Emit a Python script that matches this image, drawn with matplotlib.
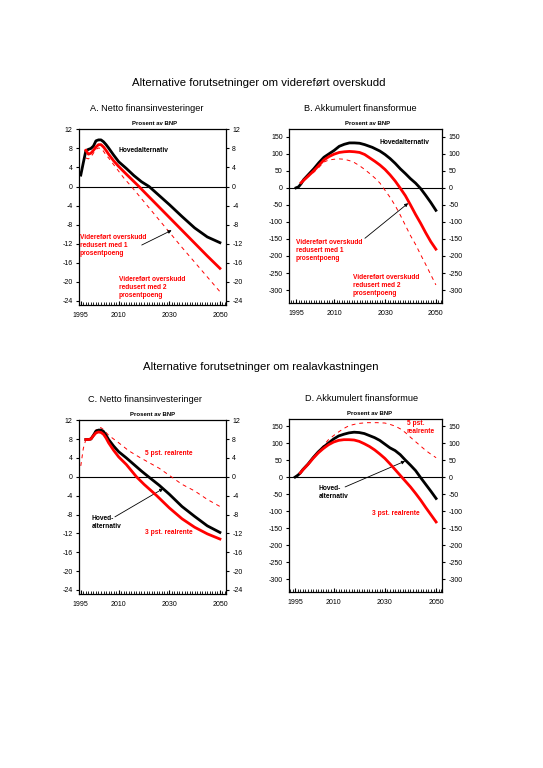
#!/usr/bin/env python3
"""
Alternative forutsetninger - netto finansinvesteringer og akkumulert finansformue
"""

import matplotlib
matplotlib.use('Agg')
import matplotlib.pyplot as plt
from matplotlib.ticker import MultipleLocator

plt.rcParams['font.family'] = ['Liberation Sans', 'DejaVu Sans']
plt.rcParams['axes.unicode_minus'] = False

RED = '#ff0000'

# ---- Panel A: netto finansinvesteringer, prosent av BNP ----
a_base_years = [1995, 1996, 1997, 1998, 1999, 2000, 2001, 2002, 2003, 2004, 2005, 2006,
                2008, 2010, 2013, 2016, 2019, 2022, 2026, 2030, 2035, 2040, 2045, 2050]
a_base_vals = [2.4, 5.0, 7.5, 7.8, 8.0, 8.5, 9.6, 9.8, 9.8, 9.4, 8.8, 8.1,
               6.6, 5.2, 3.8, 2.3, 1.0, 0.0, -1.9, -3.8, -6.3, -8.7, -10.6, -11.8]
a_red1_years = [1997, 1998, 1999, 2000, 2001, 2002, 2003, 2004, 2005, 2006, 2008, 2010,
                2013, 2018, 2020, 2025, 2030, 2035, 2040, 2045, 2050]
a_red1_vals = [7.6, 6.8, 7.0, 7.6, 8.3, 8.8, 8.8, 8.3, 7.6, 6.8, 5.4, 4.2,
               2.6, 0.0, -1.1, -3.8, -6.5, -9.2, -11.9, -14.6, -17.2]
a_red2_years = [1997, 1998, 1999, 2000, 2001, 2002, 2003, 2004, 2005, 2006, 2008, 2010,
                2012, 2015, 2020, 2025, 2030, 2035, 2040, 2045, 2050]
a_red2_vals = [6.0, 5.8, 6.2, 7.0, 7.8, 8.1, 8.0, 7.4, 6.6, 6.0, 4.6, 3.2,
               1.8, 0.0, -3.2, -6.4, -9.6, -12.8, -15.9, -19.0, -22.1]

# ---- Panel B: akkumulert finansformue, prosent av BNP ----
b_base_years = [1995, 1996, 1997, 1998, 2000, 2002, 2004, 2006, 2008, 2010, 2012, 2014,
                2016, 2018, 2020, 2022, 2025, 2028, 2030, 2032, 2034, 2036, 2038, 2040,
                2042, 2044, 2046, 2048, 2050]
b_base_vals = [0, 3, 12, 24, 40, 56, 74, 90, 100, 110, 122, 128,
               132, 132, 131, 127, 119, 108, 98, 86, 72, 56, 42, 27,
               14, -2, -22, -43, -66]
b_red1_years = [1997, 1998, 2000, 2002, 2004, 2006, 2008, 2010, 2012, 2014, 2016, 2018,
                2020, 2022, 2024, 2026, 2028, 2030, 2032, 2034, 2036, 2038, 2040, 2042,
                2044, 2046, 2048, 2050]
b_red1_vals = [15, 22, 36, 50, 66, 82, 92, 99, 104, 106, 107, 106,
               104, 98, 88, 78, 67, 54, 38, 20, -1, -23, -50, -78,
               -104, -132, -158, -180]
b_red2_years = [1997, 1998, 2000, 2002, 2004, 2006, 2008, 2010, 2012, 2014, 2016, 2018,
                2020, 2022, 2024, 2026, 2028, 2030, 2032, 2034, 2036, 2038, 2040, 2042,
                2044, 2046, 2048, 2050]
b_red2_vals = [14, 21, 34, 46, 60, 76, 82, 84, 85, 84, 80, 74,
               65, 54, 42, 29, 14, -7, -28, -52, -80, -110, -140, -166,
               -196, -225, -255, -285]

# ---- Panel C: netto finansinvesteringer, alternativ realrente ----
c_base_years = [1997, 1998, 1999, 2000, 2001, 2002, 2003, 2004, 2005, 2006, 2008, 2010,
                2013, 2016, 2019, 2022, 2026, 2030, 2035, 2040, 2045, 2050]
c_base_vals = [7.9, 7.9, 8.0, 8.8, 9.7, 9.9, 9.9, 9.6, 8.8, 7.9, 6.5, 5.3,
               4.0, 2.6, 1.2, -0.1, -1.8, -3.7, -6.3, -8.4, -10.4, -11.8]
c_r3_years = [1997, 1998, 1999, 2000, 2001, 2002, 2003, 2004, 2005, 2006, 2008, 2010,
              2013, 2017, 2020, 2025, 2030, 2035, 2040, 2045, 2050]
c_r3_vals = [7.9, 7.9, 8.0, 8.7, 9.3, 9.5, 9.4, 9.0, 8.2, 7.2, 5.6, 4.2,
             2.6, 0.0, -1.6, -4.0, -6.6, -8.9, -10.7, -12.1, -13.2]
c_r5_years = [1995, 1996, 1997, 1998, 1999, 2000, 2001, 2002, 2003, 2004, 2005, 2006,
              2008, 2010, 2014, 2018, 2022, 2026, 2030, 2035, 2040, 2045, 2050]
c_r5_vals = [2.3, 6.0, 7.9, 8.0, 8.2, 9.0, 9.9, 10.4, 10.4, 10.0, 9.4, 8.8,
             8.0, 7.2, 5.5, 4.2, 3.0, 1.8, 0.3, -1.6, -3.0, -4.8, -6.3]

# ---- Panel D: akkumulert finansformue, alternativ realrente ----
d_base_years = [1995, 1996, 1997, 1998, 2000, 2002, 2004, 2006, 2008, 2010, 2012, 2014,
                2016, 2018, 2020, 2022, 2024, 2026, 2028, 2030, 2032, 2034, 2036, 2038,
                2040, 2042, 2044, 2046, 2048, 2050]
d_base_vals = [0, 5, 12, 22, 38, 57, 74, 88, 100, 112, 121, 126,
               130, 132, 131, 128, 122, 116, 108, 97, 86, 78, 66, 50,
               35, 19, -2, -22, -42, -63]
d_r3_years = [1997, 1998, 2000, 2002, 2004, 2006, 2008, 2010, 2012, 2014, 2016, 2018,
              2020, 2022, 2024, 2026, 2028, 2030, 2032, 2034, 2036, 2038, 2040, 2042,
              2044, 2046, 2048, 2050]
d_r3_vals = [12, 21, 37, 55, 71, 84, 95, 103, 108, 110, 110, 109,
             105, 98, 90, 80, 68, 55, 39, 22, 5, -12, -29, -48,
             -68, -90, -111, -132]
d_r5_years = [1995, 1998, 2000, 2002, 2004, 2006, 2008, 2010, 2012, 2014, 2016, 2018,
              2020, 2023, 2027, 2030, 2032, 2034, 2036, 2038, 2040, 2042, 2044, 2046,
              2048, 2050]
d_r5_vals = [0, 22, 38, 57, 75, 92, 110, 122, 133, 143, 151, 155,
             158, 160, 160, 159, 155, 150, 142, 131, 117, 104, 91, 78,
             67, 57]

x_tick_years = [1995, 2010, 2030, 2050]
pct_ticks = [12, 8, 4, 0, -4, -8, -12, -16, -20, -24]
wealth_ticks = [150, 100, 50, 0, -50, -100, -150, -200, -250, -300]


def style_axes(ax, xlim, ylim, yticks):
    """Common frame: yearly minor ticks inside, y ticks on both sides"""
    ax.set_xlim(*xlim)
    ax.set_ylim(*ylim)
    ax.set_xticks(x_tick_years)
    ax.xaxis.set_minor_locator(MultipleLocator(1))
    ax.set_yticks(yticks)
    ax.tick_params(axis='x', which='both', direction='in', top=False,
                   labelsize=5, pad=5)
    ax.tick_params(axis='x', which='major', length=3, width=0.8)
    ax.tick_params(axis='x', which='minor', length=2, width=0.6)
    ax.tick_params(axis='y', direction='out', left=True, right=True,
                   labelleft=True, labelright=True, labelsize=5,
                   length=2.5, width=0.8, pad=2)
    for s in ax.spines.values():
        s.set_linewidth(0.9)
    ax.axhline(0, color='black', lw=0.8, zorder=1)


def panel_title(fig, ax, title, x_shift=0.0):
    pos = ax.get_position()
    cx = pos.x0 + pos.width / 2 + x_shift
    fig.text(cx, pos.y1 + 0.027, title, ha='center', va='center', fontsize=6.6)
    fig.text(cx + 0.014, pos.y1 + 0.007, 'Prosent av BNP', ha='center', va='center',
             fontsize=4.3, fontweight='bold')


def arrow(ax, start, end):
    ax.annotate('', xy=end, xytext=start,
                arrowprops=dict(arrowstyle='-|>', color='black', lw=0.6,
                                mutation_scale=5, shrinkA=0, shrinkB=0))


fig = plt.figure(figsize=(5.43, 7.68), dpi=100)
axA = fig.add_axes([0.1455, 0.6029, 0.2707, 0.2292])
axB = fig.add_axes([0.5322, 0.6055, 0.2818, 0.2266])
axC = fig.add_axes([0.1455, 0.2266, 0.2707, 0.2266])
axD = fig.add_axes([0.5322, 0.2292, 0.2818, 0.2253])

txt = dict(fontsize=4.8, fontweight='bold', linespacing=1.2)

# A
axA.plot(a_red2_years, a_red2_vals, color=RED, lw=0.7, ls=(0, (4, 4)), zorder=2)
axA.plot(a_base_years, a_base_vals, color='black', lw=2.0, zorder=3)
axA.plot(a_red1_years, a_red1_vals, color=RED, lw=2.0, zorder=4)
style_axes(axA, (1994.3, 2052.4), (-24.9, 12.1), pct_ticks)
axA.text(2010.1, 7.5, 'Hovedalternativ', color='black', va='center', **txt)
axA.text(1994.7, -10.0, 'Videreført overskudd\nredusert med 1\nprosentpoeng',
         color=RED, va='top', **txt)
axA.text(2010.1, -18.8, 'Videreført overskudd\nredusert med 2\nprosentpoeng',
         color=RED, va='top', **txt)
arrow(axA, (2019.1, -12.3), (2030.9, -9.2))

# B
axB.plot(b_red2_years, b_red2_vals, color=RED, lw=0.7, ls=(0, (4, 4)), zorder=2)
axB.plot(b_base_years, b_base_vals, color='black', lw=2.0, zorder=3)
axB.plot(b_red1_years, b_red1_vals, color=RED, lw=2.0, zorder=4)
style_axes(axB, (1992.25, 2052.4), (-338, 173), wealth_ticks)
axB.text(2028.0, 132, 'Hovedalternativ', color='black', va='center', **txt)
axB.text(1995.0, -151, 'Videreført overskudd\nredusert med 1\nprosentpoeng',
         color=RED, va='top', **txt)
axB.text(2017.3, -253, 'Videreført overskudd\nredusert med 2\nprosentpoeng',
         color=RED, va='top', **txt)
arrow(axB, (2022.1, -148), (2039.1, -45))

# C
axC.plot(c_r5_years, c_r5_vals, color=RED, lw=0.7, ls=(0, (4, 4)), zorder=2)
axC.plot(c_base_years, c_base_vals, color='black', lw=2.0, zorder=3)
axC.plot(c_r3_years, c_r3_vals, color=RED, lw=2.0, zorder=4)
style_axes(axC, (1994.3, 2052.4), (-24.85, 12.05), pct_ticks)
axC.text(2020.4, 4.9, '5 pst. realrente', color=RED, va='center', **txt)
axC.text(1999.3, -8.1, 'Hoved-\nalternativ', color='black', va='top', **txt)
axC.text(2020.4, -11.9, '3 pst. realrente', color=RED, va='center', **txt)
arrow(axC, (2008.5, -8.5), (2027.6, -2.5))

# D
axD.plot(d_r5_years, d_r5_vals, color=RED, lw=0.7, ls=(0, (4, 4)), zorder=2)
axD.plot(d_base_years, d_base_vals, color='black', lw=2.0, zorder=3)
axD.plot(d_r3_years, d_r3_vals, color=RED, lw=2.0, zorder=4)
style_axes(axD, (1992.6, 2052.3), (-338, 171), wealth_ticks)
axD.text(2038.6, 169, '5 pst.\nrealrente', color=RED, va='top', **txt)
axD.text(2004.1, -24, 'Hoved-\nalternativ', color='black', va='top', **txt)
axD.text(2024.9, -107.7, '3 pst. realrente', color=RED, va='center', **txt)
arrow(axD, (2014.5, -29), (2037.9, 47))

# titles
fig.text(0.477, 1 - 83.5 / 768, 'Alternative forutsetninger om videreført overskudd',
         ha='center', va='center', fontsize=8.2)
fig.text(0.481, 1 - 367 / 768, 'Alternative forutsetninger om realavkastningen',
         ha='center', va='center', fontsize=8.2)
panel_title(fig, axA, 'A. Netto finansinvesteringer', -0.010)
panel_title(fig, axB, 'B. Akkumulert finansformue', -0.010)
panel_title(fig, axC, 'C. Netto finansinvesteringer', -0.014)
panel_title(fig, axD, 'D. Akkumulert finansformue', -0.007)

fig.savefig('out.png', dpi=100)
